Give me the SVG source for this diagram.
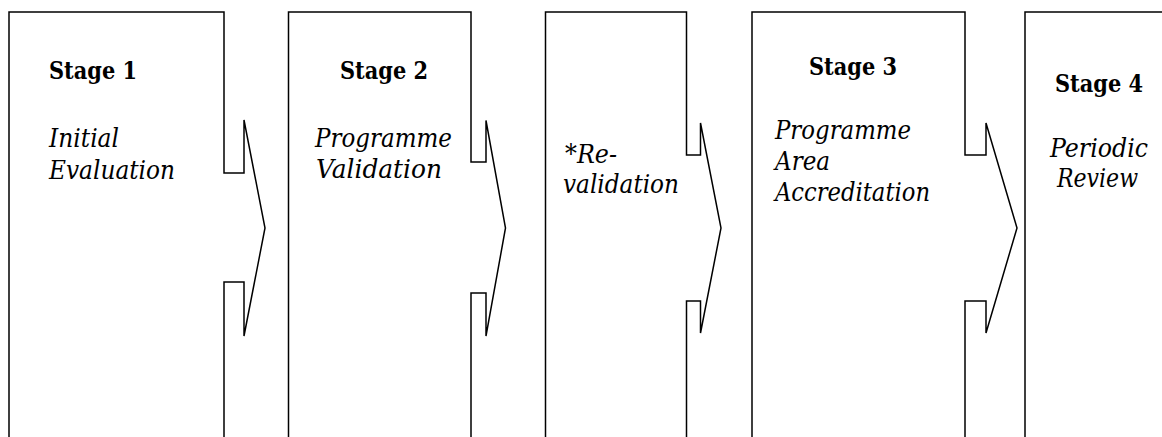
<svg xmlns="http://www.w3.org/2000/svg" width="1162" height="437" viewBox="0 0 1162 437">
<style>
.shape{fill:#fff;stroke:#000;stroke-width:1.5;stroke-linejoin:miter}
text{font-family:'DejaVu Serif','Liberation Serif','Times New Roman',serif;font-size:26px;fill:#000}
.b{font-weight:bold;font-size:25px}
.i{font-style:italic}
</style>
<rect x="0" y="0" width="1162" height="437" fill="#fff"/>
<g id="connectors"></g>
<g id="stage1">
<path class="shape" d="M9,440 V12 H224 V173 H244 V120 L265,228 L244,336 V282 H224 V440"/>
<text class="b" x="49" y="79" textLength="88" lengthAdjust="spacingAndGlyphs">Stage 1</text>
<text class="i" x="49" y="147" textLength="70" lengthAdjust="spacingAndGlyphs">Initial</text>
<text class="i" x="49" y="179" textLength="126" lengthAdjust="spacingAndGlyphs">Evaluation</text>
</g>
<g id="stage2">
<path class="shape" d="M288.5,440 V12 H471 V162 H486 V120.5 L505.5,228 L486,336 V293 H471 V440"/>
<text class="b" x="340" y="79" textLength="88" lengthAdjust="spacingAndGlyphs">Stage 2</text>
<text class="i" x="315" y="147" textLength="137" lengthAdjust="spacingAndGlyphs">Programme</text>
<text class="i" x="316" y="178" textLength="126" lengthAdjust="spacingAndGlyphs">Validation</text>
</g>
<g id="revalidation">
<path class="shape" d="M545.5,440 V12 H686.5 V155 H700.5 V123 L721,228 L700.5,333 V301 H686.5 V440"/>
<text class="i" x="565" y="163" textLength="52" lengthAdjust="spacingAndGlyphs">*Re-</text>
<text class="i" x="563" y="193" textLength="116" lengthAdjust="spacingAndGlyphs">validation</text>
</g>
<g id="stage3">
<path class="shape" d="M752,440 V12 H965 V155 H986 V123 L1017,228 L986,333 V301 H965 V440"/>
<text class="b" x="809" y="75" textLength="88" lengthAdjust="spacingAndGlyphs">Stage 3</text>
<text class="i" x="775" y="139" textLength="136" lengthAdjust="spacingAndGlyphs">Programme</text>
<text class="i" x="775" y="170" textLength="55" lengthAdjust="spacingAndGlyphs">Area</text>
<text class="i" x="775" y="201" textLength="155" lengthAdjust="spacingAndGlyphs">Accreditation</text>
</g>
<g id="stage4">
<path class="shape" d="M1025,440 V12 H1170"/>
<text class="b" x="1055" y="92" textLength="88" lengthAdjust="spacingAndGlyphs">Stage 4</text>
<text class="i" x="1050" y="157" textLength="98" lengthAdjust="spacingAndGlyphs">Periodic</text>
<text class="i" x="1057" y="187" textLength="81" lengthAdjust="spacingAndGlyphs">Review</text>
</g>
</svg>
